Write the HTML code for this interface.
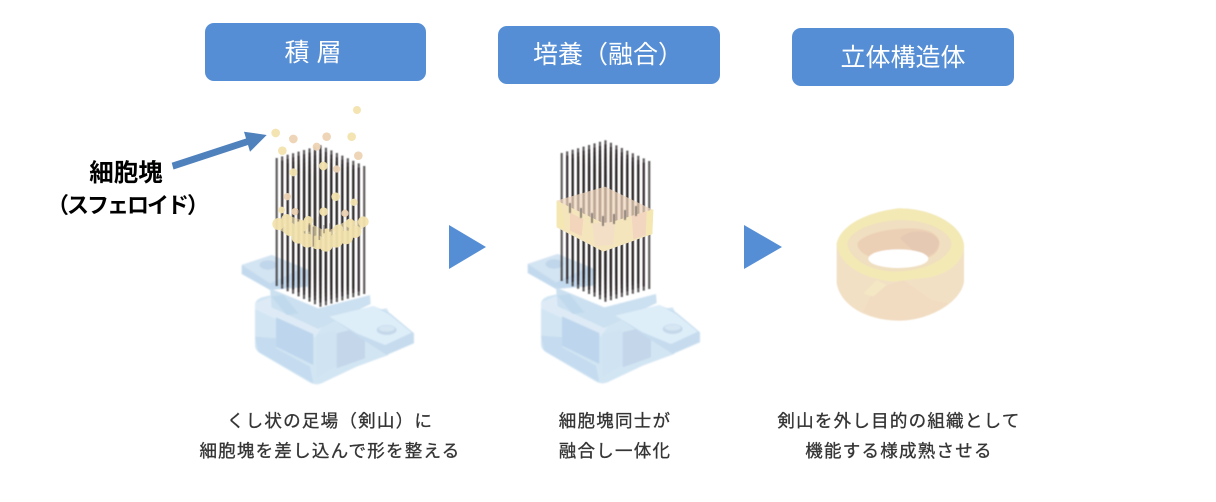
<!DOCTYPE html>
<html lang="ja">
<head>
<meta charset="utf-8">
<style>
html,body{margin:0;padding:0;background:#fff;}
body{width:1216px;height:502px;overflow:hidden;}
svg{display:block;}
text{font-family:"Liberation Sans","Noto Sans CJK JP",sans-serif;}
.h{fill:#fff;font-size:25px;text-anchor:middle;}
.c{fill:#333;stroke:#404040;stroke-width:.35px;font-size:17.5px;letter-spacing:1.25px;text-anchor:middle;filter:url(#b3);}
.l{fill:#000;font-weight:700;text-anchor:middle;}
</style>
</head>
<body>
<svg width="1216" height="502" viewBox="0 0 1216 502" xmlns="http://www.w3.org/2000/svg">
<defs>
<filter id="b3" x="-5%" y="-20%" width="110%" height="140%"><feGaussianBlur stdDeviation="0.35"/></filter>
<filter id="b4" x="-5%" y="-5%" width="110%" height="110%"><feGaussianBlur stdDeviation="0.5"/></filter>
<filter id="b5" x="-5%" y="-5%" width="110%" height="110%"><feGaussianBlur stdDeviation="0.7"/></filter>
<filter id="b1" x="-5%" y="-5%" width="110%" height="110%"><feGaussianBlur stdDeviation="1.3"/></filter>
<g id="pin"><line x1="0" y1="0" x2="0" y2="128" stroke="#2f2a2d" stroke-width="2.2" stroke-opacity=".76"/></g>
<g id="row">
<use href="#pin"/>
<use href="#pin" x="5.47" y="-1.6"/>
<use href="#pin" x="10.94" y="-3.2"/>
<use href="#pin" x="16.41" y="-4.8"/>
<use href="#pin" x="21.88" y="-6.4"/>
<use href="#pin" x="27.35" y="-8"/>
<use href="#pin" x="32.82" y="-9.6"/>
<use href="#pin" x="38.29" y="-11.2"/>
<use href="#pin" x="43.76" y="-12.8"/>
</g>
<g id="pins" filter="url(#b4)">
<use href="#row"/>
<use href="#row" x="5.47" y="2.6"/>
<use href="#row" x="10.94" y="5.2"/>
<use href="#row" x="16.41" y="7.8"/>
<use href="#row" x="21.88" y="10.4"/>
<use href="#row" x="27.35" y="13"/>
<use href="#row" x="32.82" y="15.6"/>
<use href="#row" x="38.29" y="18.2"/>
<use href="#row" x="43.76" y="20.8"/>
</g>
<g id="base" filter="url(#b5)">
<g transform="translate(230,100) scale(.3333)">
<!-- left tab -->
<polygon points="35,495 125,465 235,510 235,560 120,570 35,522" fill="#c3daee"/>
<polygon points="35,495 125,465 215,505 120,550" fill="#d3e4f2"/>
<ellipse cx="115" cy="495" rx="26" ry="14" fill="#c0d6ea"/>
<!-- body -->
<path d="M75,615 Q75,600 95,592 L125,585 L300,650 L470,625 L478,640 L475,765 L380,800 L275,850 Q255,858 235,845 L90,760 Q75,750 75,735 Z" fill="#d2e5f3"/>
<polygon points="75,610 125,590 295,655 255,712 75,628" fill="#deebf6"/>
<polygon points="138,652 250,702 250,795 138,740" fill="#bdd6ed"/>
<polygon points="75,710 138,715 138,745 240,800 250,850 85,755" fill="#c5dcf0"/>
<polygon points="258,705 318,690 318,800 258,835" fill="#cfe3f2"/>
<polygon points="320,700 405,680 405,775 320,805" fill="#c3d6ea"/>
<!-- plate -->
<polygon points="120,565 265,625 420,585 422,612 265,687 125,622" fill="#cbe0f0"/>
<polygon points="125,590 160,585 205,640 170,645" fill="#c0d9ed"/>
<!-- right tab -->
<polygon points="298,650 430,618 480,640 552,700 552,730 470,765 400,720" fill="#c6dcee"/>
<polygon points="298,650 430,618 480,645 545,698 465,735 380,700" fill="#deeef9"/>
<ellipse cx="470" cy="690" rx="30" ry="15" fill="#c4d8ea"/>
<ellipse cx="470" cy="686" rx="24" ry="9" fill="#d6e6f3"/>
</g>
</g>
</defs>

<!-- headers -->
<rect x="205" y="23" width="221" height="58" rx="9" fill="#558ed5"/>
<rect x="498" y="26" width="222" height="58" rx="9" fill="#558ed5"/>
<rect x="792" y="28" width="222" height="58" rx="9" fill="#558ed5"/>
<text class="h" x="313" y="61">積 層</text>
<text class="h" x="608" y="63">培養（融合）</text>
<text class="h" x="903" y="66">立体構造体</text>

<!-- left label -->
<text class="l" x="126" y="181" font-size="24.5">細胞塊</text>
<text class="l" x="127" y="213" font-size="22" letter-spacing="-2">（スフェロイド）</text>

<!-- blue arrow -->
<polygon points="171.7,162.7 246,138.5 244,131.7 266.7,135 250,151.7 248,145 173.5,169.5" fill="#4f81bd"/>

<!-- process triangles -->
<polygon points="449,225 486,247 449,269" fill="#558ed5"/>
<polygon points="744,225 782,247 744,269" fill="#558ed5"/>

<!-- figure 1 -->
<use href="#base"/>
<use href="#pins" x="276.7" y="158"/>
<g filter="url(#b4)" transform="translate(230,100) scale(.3333)" opacity=".95">
<polygon points="140,365 170,345 230,365 290,395 345,365 400,360 405,380 350,420 285,445 205,420 140,385" fill="#f3e3ae" opacity=".7"/>
<g fill="#f3e3ae">
<circle cx="137" cy="99" r="13"/><circle cx="365" cy="110" r="13"/><circle cx="381" cy="30" r="12"/>
<circle cx="157" cy="152" r="13"/><circle cx="190" cy="217" r="12"/><circle cx="280" cy="198" r="13"/>
<circle cx="317" cy="290" r="13"/><circle cx="281" cy="335" r="13"/><circle cx="372" cy="307" r="11"/>
<circle cx="145" cy="372" r="18"/><circle cx="170" cy="358" r="16"/><circle cx="180" cy="388" r="20"/>
<circle cx="205" cy="410" r="21"/><circle cx="232" cy="422" r="21"/><circle cx="262" cy="427" r="21"/>
<circle cx="288" cy="434" r="21"/><circle cx="318" cy="422" r="21"/><circle cx="348" cy="412" r="21"/>
<circle cx="375" cy="395" r="19"/><circle cx="400" cy="365" r="16"/><circle cx="215" cy="378" r="18"/>
<circle cx="235" cy="362" r="14"/><circle cx="325" cy="388" r="15"/><circle cx="360" cy="370" r="14"/>
<circle cx="155" cy="330" r="10"/><circle cx="290" cy="400" r="15"/>
</g>
<g fill="#eed3b4">
<circle cx="190" cy="117" r="13"/><circle cx="290" cy="110" r="13"/><circle cx="385" cy="167" r="13"/>
<circle cx="260" cy="140" r="12"/><circle cx="320" cy="207" r="11"/><circle cx="172" cy="290" r="11"/>
<circle cx="195" cy="335" r="11"/><circle cx="345" cy="340" r="11"/>
</g>
<g stroke="#6b5a5a" stroke-width="5" opacity=".5">
<line x1="238" y1="370" x2="238" y2="395"/><line x1="250" y1="380" x2="250" y2="440"/>
<line x1="268" y1="350" x2="268" y2="420"/><line x1="282" y1="375" x2="282" y2="400"/>
<line x1="205" y1="330" x2="205" y2="365"/><line x1="300" y1="370" x2="300" y2="395"/>
</g>
</g>

<!-- figure 2 -->
<use href="#base" x="286" y="-1"/>
<use href="#pins" x="561.7" y="158" transform="translate(0,-5)"/>
<g filter="url(#b4)" transform="translate(515,130) scale(.3333)">
<polygon points="125,212 270,170 415,240 270,300" fill="#f0d6bb" opacity=".72"/>
<polygon points="125,212 270,282 415,238 412,312 265,365 125,292" fill="#f4e5bd"/>
<polygon points="165,248 205,268 200,318 165,302" fill="#f2d5bb"/>
<polygon points="232,280 300,276 295,345 240,348" fill="#f3dfc6"/>
<polygon points="350,258 395,244 392,315 355,328" fill="#f2d6bf"/>
<polygon points="125,212 138,218 150,298 125,290" fill="#f5e7b2"/>
<polygon points="395,244 415,238 412,312 395,318" fill="#f5e7b2"/>
</g>
<g stroke="#3a3638" stroke-width="1.8" opacity=".6" filter="url(#b4)">
<line x1="570" y1="203" x2="570" y2="213"/><line x1="581" y1="208" x2="581" y2="218"/>
<line x1="592" y1="213" x2="592" y2="223"/><line x1="603" y1="216" x2="603" y2="226"/>
<line x1="614" y1="214" x2="614" y2="224"/><line x1="625" y1="210" x2="625" y2="220"/>
<line x1="636" y1="206" x2="636" y2="216"/>
</g>

<!-- figure 3 -->
<g filter="url(#b1)" transform="translate(820,200) scale(.3333)">
<path d="M50,130 C60,85 120,40 235,25 C340,25 425,75 432,135 L432,245 C425,300 340,360 240,362 C130,362 60,310 50,250 Z" fill="#f2e0c5"/>
<path d="M250,240 L335,300 L385,310 C340,345 290,360 240,362 C200,362 160,350 130,335 L160,270 Z" fill="#f1dcc2"/>
<path d="M130,280 L170,240 L200,255 L160,290 Z" fill="#f4e8c4"/>
<path d="M50,130 C60,85 120,40 235,25 C340,25 425,75 432,135 C430,180 400,215 330,232 L220,245 C120,235 55,190 50,130 Z" fill="#f3e9b5"/>
<path d="M82,130 C90,95 150,65 235,60 C320,60 385,90 395,130 C390,175 320,212 225,215 C140,212 85,170 82,130 Z" fill="#f0dfc0"/>
<path d="M112,130 C130,100 210,85 270,85 C320,85 358,100 358,130 C358,165 320,185 240,185 C170,185 112,165 112,130 Z" fill="#ecd0b6"/>
<path d="M240,115 C265,85 340,85 358,125 C355,160 325,170 300,172 Z" fill="#e5c9b2"/>
<ellipse cx="235" cy="176" rx="90" ry="28" fill="#fff"/>
</g>

<!-- captions -->
<text class="c" x="330" y="427">くし状の足場（剣山）に</text>
<text class="c" x="330" y="457">細胞塊を差し込んで形を整える</text>
<text class="c" x="615" y="427">細胞塊同士が</text>
<text class="c" x="615" y="457">融合し一体化</text>
<text class="c" x="899" y="427">剣山を外し目的の組織として</text>
<text class="c" x="899" y="457">機能する様成熟させる</text>
</svg>
</body>
</html>
